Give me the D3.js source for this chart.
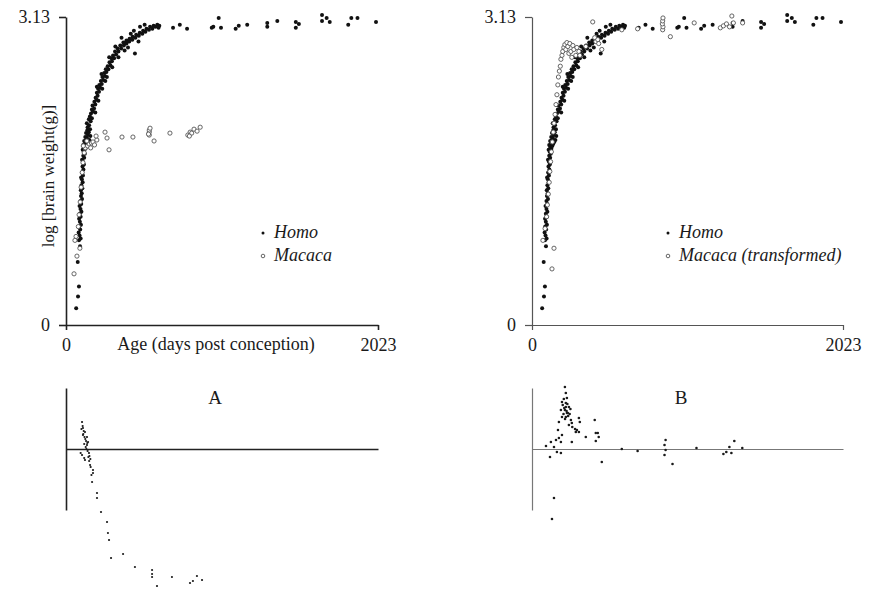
<!DOCTYPE html>
<html><head><meta charset="utf-8">
<script src="https://cdn.jsdelivr.net/npm/d3@7"></script>
<style>body{margin:0;background:#fff}svg{display:block}text{font-family:"Liberation Serif","DejaVu Serif",serif;fill:#1a1a1a}</style>
</head><body>
<svg id="c" width="869" height="591"></svg>
<script>
// ---- data: [age (days post conception), log brain weight (g)] ----
const homo = [
[66,0.17],[78,0.29],[84,0.39],[76,0.64],
[91,0.80],[84,0.86],[95,0.88],[88,0.91],[82,0.94],[92,0.97],[86,1.00],[97,1.02],[90,1.05],[85,1.08],[95,1.10],[90,1.13],[100,1.15],[94,1.18],[88,1.21],[99,1.23],[94,1.26],[104,1.28],[97,1.31],[102,1.34],[96,1.37],[106,1.39],[100,1.42],[108,1.45],[103,1.48],[98,1.50],[110,1.52],[105,1.55],[113,1.58],[107,1.61],[116,1.63],[110,1.66],[104,1.68],[118,1.70],[112,1.72],[122,1.74],[115,1.76],[108,1.78],
[126,1.79],[118,1.81],[132,1.82],[112,1.83],[138,1.84],[124,1.85],[145,1.86],[118,1.87],[130,1.88],[152,1.88],[136,1.90],[125,1.91],[158,1.92],[142,1.93],[130,1.95],[148,1.96],[138,1.98],[156,1.99],
[140,2.01],[150,2.03],[135,2.05],[160,2.07],[148,2.09],[168,2.10],[155,2.12],[162,2.15],[175,2.17],[168,2.19],[182,2.20],[172,2.23],[190,2.24],[184,2.27],[198,2.29],[192,2.31],[205,2.33],[200,2.36],[214,2.37],[208,2.40],[222,2.41],[216,2.44],[232,2.45],[226,2.48],[242,2.49],[236,2.52],[252,2.53],[248,2.56],[262,2.57],[258,2.60],[275,2.60],[270,2.63],[288,2.64],[282,2.67],[298,2.68],[295,2.71],[312,2.71],[305,2.74],[325,2.75],[318,2.78],[340,2.78],[335,2.81],[358,2.81],[352,2.84],[375,2.84],[372,2.87],[392,2.86],[392,2.89],[410,2.88],[412,2.91],[430,2.90],[432,2.93],[450,2.92],[455,2.95],[472,2.94],[478,2.97],[495,2.96],[500,2.99],[515,2.98],[522,3.01],[538,3.00],[545,3.03],[560,3.01],[568,3.04],[580,3.03],[592,3.05],[600,3.02],[605,3.04],
[190,2.16],[210,2.28],[235,2.40],[265,2.52],[300,2.62],[340,2.72],[380,2.79],[447,2.76],[402,2.82],[470,2.88],[230,2.55],[200,2.42],[280,2.72],[320,2.83],[360,2.92],[440,2.99],[510,3.05],[255,2.48],[480,3.03],[420,2.96],
[694,3.02],[738,3.05],[785,3.01],[945,3.02],[955,3.03],[990,3.12],[1005,3.02],[1100,3.01],[1120,3.04],[1175,3.05],[1305,3.07],[1305,3.03],[1370,3.09],[1490,3.08],[1510,3.06],[1490,3.02],[1660,3.15],[1660,3.09],[1690,3.12],[1710,3.08],[1830,3.05],[1850,3.12],[1890,3.12],[2010,3.08]
];
const macaca = [
[52,0.52],[71,0.70],[58,0.86],[90,0.78],[65,0.90],[80,1.00],[85,1.12],[92,1.25],[98,1.40],[105,1.55],[110,1.65],[118,1.75],[125,1.80],[140,1.82],[150,1.84],[165,1.85],[175,1.86],[160,1.80],[185,1.83],[200,1.88],[195,1.92],[135,1.87],[112,1.82],
[253,1.96],[266,1.90],[279,1.78],[363,1.91],[434,1.91],[540,1.93],[540,1.96],[540,1.98],[545,2.00],[535,1.94],[571,1.87],[674,1.95],[790,1.93],[805,1.96],[815,1.95],[830,1.99],[850,1.97],[870,2.01],[800,1.92]
];
const macacaTransformed = [
[71,0.86],[85,0.98],[95,1.10],[100,1.22],[106,1.33],[112,1.45],[116,1.56],[121,1.66],[126,1.76],[132,1.86],[138,1.96],[143,2.05],[150,2.14],[156,2.24],[162,2.34],[168,2.44],[172,2.52],[178,2.58],[184,2.63],[188,2.70],[195,2.74],[200,2.78],[207,2.82],[214,2.85],[220,2.80],[227,2.87],[233,2.83],[240,2.76],[246,2.86],[253,2.78],[259,2.72],[266,2.84],[272,2.80],[285,2.74],[292,2.82],[305,2.78],[311,2.74],[350,2.83],[395,3.08],[408,2.92],[415,2.88],[428,2.90],[434,2.86],[454,2.80],[584,3.00],[687,3.01],[850,3.00],[852,3.03],[848,3.06],[850,3.09],[852,3.12],[900,2.93],[1055,3.07],[1225,3.02],[1245,3.04],[1265,3.06],[1285,3.03],[1300,3.14],[1310,3.07],[1370,3.07],[130,0.57],[143,0.78]
];
// residuals: [age, residual log weight]
const residA = [
[104,0.27],[110,0.21],[123,0.17],[136,0.12],[110,0.14],[143,0.07],[136,0.04],[104,-0.06],[123,-0.11],[149,-0.04],[156,-0.16],[175,-0.21],[175,-0.24],[169,-0.33],[201,-0.44],[201,-0.49],[227,-0.63],[266,-0.73],[272,-0.84],[279,-0.91],[292,-1.09],[370,-1.05],[447,-1.18],[558,-1.21],[558,-1.25],[558,-1.28],[590,-1.37],[687,-1.28],[804,-1.34],[823,-1.32],[849,-1.27],[882,-1.31],
[100,0.20],[115,0.18],[120,0.12],[125,0.10],[130,0.08],[118,0.05],[128,0.02],[140,-0.02],[145,-0.08],[150,-0.12],[160,-0.18],[165,-0.26],[112,0.15],[108,0.23],[95,-0.04],[118,-0.09],[132,0.00],[138,0.06],[152,-0.07],[158,-0.10]
];
const residB = [
[214,0.62],[220,0.56],[207,0.50],[195,0.47],[227,0.51],[220,0.46],[220,0.42],[214,0.39],[227,0.36],[220,0.32],[240,0.42],[233,0.36],[253,0.29],[259,0.26],[188,0.39],[195,0.32],[175,0.27],[305,0.31],[311,0.27],[305,0.17],[285,0.17],[292,0.19],[350,0.12],[259,0.07],[169,0.19],[156,0.09],[175,0.11],[188,0.07],[195,0.14],[123,0.07],[91,0.03],[143,0.02],[162,-0.03],[188,-0.04],[117,-0.08],[408,0.29],[415,0.16],[428,0.16],[434,0.12],[415,0.08],[454,-0.13],[584,0.00],[687,-0.02],[869,0.09],[862,0.04],[869,-0.01],[862,-0.06],[914,-0.15],[1070,0.01],[1245,-0.05],[1264,-0.03],[1284,0.02],[1297,-0.04],[1316,0.08],[1368,0.01],[143,-0.49],[130,-0.70],
[200,0.44],[210,0.41],[225,0.38],[235,0.33],[245,0.35],[215,0.30],[205,0.35],[250,0.40],[230,0.45],[240,0.24],[262,0.22],[280,0.20]
];
const xTicks = [0, 2023];
const yTicks = [0, 3.13];
const residExtent = [-0.61, 0.61];

// ---- drawing ----
const svg = d3.select("#c");
const xA = d3.scaleLinear().domain([0,2023]).range([66,378]);
const xB = d3.scaleLinear().domain([0,2023]).range([532,843]);
const y = d3.scaleLinear().domain([0,3.13]).range([325,17]);
const ry = d3.scaleLinear().domain(residExtent).range([510,388]);

function axes(x, color, width){
  const gx = svg.append("g").attr("transform",`translate(0,${y(0)})`)
    .call(d3.axisBottom(x).tickValues(xTicks).tickSize(5).tickSizeOuter(0).tickPadding(8).tickFormat(d3.format("d")));
  const gy = svg.append("g").attr("transform",`translate(${x(0)},0)`)
    .call(d3.axisLeft(y).tickValues(yTicks).tickSize(7).tickSizeOuter(0).tickPadding(9).tickFormat(d=>d===0?"0":d3.format(".2f")(d)));
  [gx,gy].forEach(g=>{
    g.selectAll("path,line").attr("stroke",color).attr("stroke-width",width);
    g.selectAll("text").attr("font-size",18).attr("font-family","Liberation Serif").attr("fill","#1a1a1a");
  });
}
axes(xA,"#222",1.6);
axes(xB,"#555",1.2);

function points(x, data, filled){
  svg.append("g").selectAll("circle").data(data).join("circle")
    .attr("cx",d=>x(d[0])).attr("cy",d=>y(d[1]))
    .attr("r", filled?2.0:2.1)
    .attr("fill", filled?"#111":"#fff")
    .attr("stroke", filled?"none":"#555")
    .attr("stroke-width",0.9);
}
points(xA, homo, true);
points(xA, macaca, false);
points(xB, homo, true);
points(xB, macacaTransformed, false);

// labels
svg.append("text").attr("x",216).attr("y",350).attr("text-anchor","middle").attr("font-size",18).text("Age (days post conception)");
svg.append("text").attr("transform","translate(54,176) rotate(-90)").attr("text-anchor","middle").attr("font-size",17).text("log [brain weight(g)]");

function legend(x0, labels){
  const g = svg.append("g");
  g.append("circle").attr("cx",x0).attr("cy",233).attr("r",1.5).attr("fill","#111");
  g.append("circle").attr("cx",x0).attr("cy",256).attr("r",1.8).attr("fill","#fff").attr("stroke","#555").attr("stroke-width",0.9);
  g.append("text").attr("x",x0+11).attr("y",238).attr("font-size",18).attr("font-style","italic").text(labels[0]);
  g.append("text").attr("x",x0+11).attr("y",261).attr("font-size",18).attr("font-style","italic").text(labels[1]);
}
legend(263, ["Homo","Macaca"]);
legend(668, ["Homo","Macaca (transformed)"]);

// residual panels
function resid(x, data, color, width, title, tx, r){
  svg.append("g").attr("transform",`translate(${x(0)},0)`)
    .call(d3.axisLeft(ry).tickValues([]).tickSizeOuter(0))
    .selectAll("path").attr("stroke",color).attr("stroke-width",width);
  svg.append("g").attr("transform",`translate(0,${ry(0)})`)
    .call(d3.axisBottom(x).tickValues([]).tickSizeOuter(0))
    .selectAll("path").attr("stroke",color).attr("stroke-width",width);
  svg.append("g").selectAll("circle").data(data).join("circle")
    .attr("cx",d=>x(d[0])).attr("cy",d=>ry(d[1])).attr("r",r).attr("fill","#1a1a1a");
  svg.append("text").attr("x",tx).attr("y",404).attr("text-anchor","middle").attr("font-size",19).text(title);
}
resid(xA, residA, "#222", 1.6, "A", 215, 1.1);
resid(xB, residB, "#777", 1.2, "B", 681, 1.3);
</script>
</body></html>
